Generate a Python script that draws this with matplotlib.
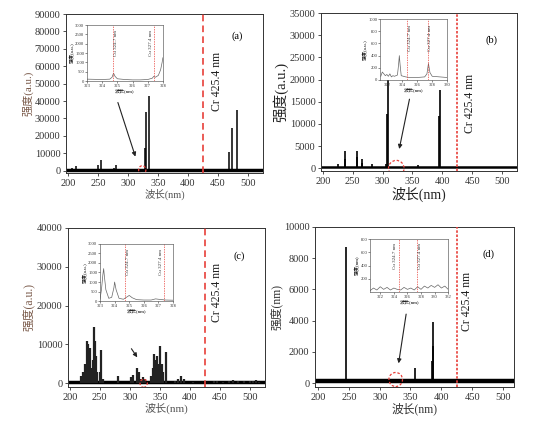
import matplotlib
matplotlib.use("Agg")
import matplotlib.pyplot as plt
from matplotlib.patches import Ellipse

plt.rcParams['font.family'] = ['Liberation Serif', 'Noto Sans CJK SC']
plt.rcParams['axes.unicode_minus'] = False

# ---------------- data ----------------
x_ticks = [200, 250, 300, 350, 400, 450, 500]
cr_line = 425.4
cu_lines = [324.7, 327.4]
cu_labels = ["Cu 324.7 nm", "Cu 327.4 nm"]

# (a)
a_wl = [202.5, 206.2, 210.2, 213.9, 250.2, 255.8, 277.1, 280.1, 307.6, 328.2, 330.5, 334.5, 469.0, 473.0, 482.0]
a_int = [1200, 1500, 800, 3000, 3200, 6000, 1800, 3200, 800, 13000, 34000, 43000, 11000, 24500, 35000]
a_yticks = [0, 10000, 20000, 30000, 40000, 50000, 60000, 70000, 80000, 90000]
a_in_x = [323.0, 323.5, 324.0, 324.5, 324.65, 324.75, 324.85, 325.0, 325.5, 326.0, 326.5, 327.0, 327.3, 327.4, 327.5, 327.7, 327.85, 327.95, 328.0]
a_in_y = [100, 90, 80, 100, 200, 420, 250, 120, 80, 60, 60, 80, 150, 250, 200, 300, 600, 1000, 1250]

# (b)
b_wl = [221.0, 226.3, 236.7, 237.3, 256.8, 257.5, 265.2, 266.0, 281.6, 305.0, 308.2, 309.3, 358.7, 394.4, 396.15, 466.3, 486.0]
b_int = [300, 1000, 2000, 4000, 2500, 3800, 1200, 2000, 1000, 1000, 12200, 19800, 800, 11700, 17600, 300, 300]
b_yticks = [0, 5000, 10000, 15000, 20000, 25000, 30000, 35000]
b_in_x = [321.2, 321.4, 321.6, 321.8, 322.0, 322.2, 322.4, 322.6, 322.8, 323.0, 323.4, 323.55, 323.65, 323.75, 323.9, 324.5, 325.0, 326.0, 327.0, 327.3, 327.5, 327.7, 328.0, 329.0, 330.0]
b_in_y = [60, 130, 100, 70, 90, 60, 100, 50, 70, 60, 80, 250, 400, 250, 70, 50, 40, 40, 50, 100, 270, 120, 60, 50, 40]

# (c)
c_wl = [218, 222, 225, 228, 230, 232, 234, 236, 238, 240, 242, 244, 246, 250, 252, 256,
        280, 302, 305, 312, 315, 318, 322, 325, 335, 338, 341, 343, 345, 347, 349, 351,
        353, 356, 361, 375, 380, 386, 390, 405, 440, 445, 455, 465, 472, 480, 490, 500, 505, 510, 515]
c_int = [2000, 3000, 5000, 11000, 10000, 6000, 9000, 4000, 6000, 14500, 11000, 7000, 3000, 3000, 8500, 1000,
         2000, 1600, 2200, 4000, 3000, 1000, 1500, 1000, 2000, 4000, 7500, 6000, 7000, 5000, 4500, 9500,
         5000, 3000, 8000, 700, 1000, 2000, 1000, 300, 600, 500, 400, 500, 900, 500, 600, 500, 600, 900, 400]
c_yticks = [0, 10000, 20000, 30000, 40000]
c_in_x = [323.0, 323.1, 323.2, 323.25, 323.3, 323.4, 323.6, 323.8, 323.95, 324.0, 324.1, 324.3, 324.6, 324.8, 325.0, 325.2, 325.5, 326.0, 326.5, 326.8, 327.0, 327.5, 328.0]
c_in_y = [100, 600, 1400, 1700, 1300, 600, 150, 200, 700, 1000, 600, 150, 100, 200, 300, 180, 80, 60, 60, 120, 100, 60, 50]

# (d)
d_wl = [245.0, 357.5, 384.5, 386.0, 387.2, 415.0]
d_int = [8700, 1000, 1400, 2400, 3900, 200]
d_yticks = [0, 2000, 4000, 6000, 8000, 10000]
d_in_x = [320.5, 321.0, 321.5, 322.0, 322.5, 323.0, 323.5, 324.0, 324.5, 325.0, 325.5, 326.0, 326.5, 327.0,
          327.5, 328.0, 328.5, 329.0, 329.5, 330.0, 330.5, 331.0, 331.5, 332.0]
d_in_y = [20, 60, 30, 80, 40, 70, 30, 60, 40, 30, 70, 40, 60, 30, 80, 40, 90, 60, 100, 70, 110, 60, 90, 40]

# ---------------- figure ----------------
fig = plt.figure(figsize=(5.54, 4.23), dpi=100)

panels = [
    dict(rect=[0.1191, 0.591, 0.3556, 0.3759], wl=a_wl, it=a_int, xlim=(197, 525), ylim=(-1300, 90000),
         yticks=a_yticks, ylabel="强度(a.u.)", ylc='#7a5a4a', ysz=8, xsz=7.5, xlc='#555555', tag="(a)",
         tagpos=(0.87, 0.86), base=300, blw=2.5, slw=1.1, scol='black', crtxt=(448, 51000),
         arrow=((282, 40700), (314, 6600)), circ=((324, 400), 12, 5000), cls=(0, (4, 2.5)),
         inset=[0.157, 0.8085, 0.137, 0.132], ix=a_in_x, iy=a_in_y, ixlim=(323, 328), iylim=(0, 3000),
         ixt=[323, 324, 325, 326, 327, 328], iyt=[0, 500, 1000, 1500, 2000, 2500, 3000],
         cuside=[1, -1], iylab="强度(a.u.)"),
    dict(rect=[0.5794, 0.5957, 0.3538, 0.3735], wl=b_wl, it=b_int, xlim=(197, 525), ylim=(-600, 35000),
         yticks=b_yticks, ylabel="强度(a.u.)", ylc='#222222', ysz=10.5, xsz=10, xlc='#222222', tag="(b)",
         tagpos=(0.87, 0.83), base=200, blw=1.8, slw=1.2, scol='black', crtxt=(447, 14700),
         arrow=((346, 16200), (327, 3750)), circ=((323, 0), 26, 3600), cls=(0, (1.5, 1)),
         inset=[0.686, 0.811, 0.1215, 0.144], ix=b_in_x, iy=b_in_y, ixlim=(321.1, 330), iylim=(0, 1000),
         ixt=[322, 324, 326, 328, 330], iyt=[0, 200, 400, 600, 800, 1000],
         cuside=[1, 1], iylab="强度(a.u.)"),
    dict(rect=[0.1227, 0.0851, 0.3556, 0.3759], wl=c_wl, it=c_int, xlim=(197, 525), ylim=(-950, 40000),
         yticks=c_yticks, ylabel="强度(a.u.)", ylc='#7a5a4a', ysz=8.5, xsz=8, xlc='#555555', tag="(c)",
         tagpos=(0.87, 0.82), base=250, blw=2.5, slw=1.6, scol='#222222', crtxt=(445, 23300),
         arrow=((300, 9500), (315, 6100)), circ=((323, 0), 12, 2100), cls=(0, (4, 2.5)),
         inset=[0.1805, 0.288, 0.132, 0.136], ix=c_in_x, iy=c_in_y, ixlim=(323, 328), iylim=(0, 3000),
         ixt=[323, 324, 325, 326, 327, 328], iyt=[0, 500, 1000, 1500, 2000, 2500, 3000],
         cuside=[1, -1], iylab="强度(a.u.)"),
    dict(rect=[0.5686, 0.0851, 0.3592, 0.3783], wl=d_wl, it=d_int, xlim=(195, 518), ylim=(-240, 10000),
         yticks=d_yticks, ylabel="强度(nm)", ylc='#333333', ysz=8.5, xsz=8.5, xlc='#333333', tag="(d)",
         tagpos=(0.87, 0.83), base=130, blw=3.2, slw=1.2, scol='black', crtxt=(441, 5250),
         arrow=((343.6, 4600), (330, 1100)), circ=((326, 240), 22, 900), cls=(0, (1.5, 1)),
         inset=[0.668, 0.3097, 0.141, 0.1246], ix=d_in_x, iy=d_in_y, ixlim=(320.5, 332), iylim=(0, 800),
         ixt=[322, 324, 326, 328, 330, 332], iyt=[200, 400, 600, 800],
         cuside=[-1, 1], iylab="强度(nm)"),
]

red = '#e8403a'
for p in panels:
    ax = fig.add_axes(p['rect'])
    ax.plot(list(p['xlim']), [p['base'], p['base']], color='black', lw=p['blw'], solid_capstyle='butt', zorder=2)
    ax.vlines(p['wl'], 0, p['it'], color=p['scol'], lw=p['slw'], zorder=3)
    ax.axvline(cr_line, color=red, lw=1.2, ls=p['cls'], zorder=4)
    ax.set_xlim(*p['xlim'])
    ax.set_ylim(*p['ylim'])
    ax.set_xticks(x_ticks)
    ax.set_yticks(p['yticks'])
    ax.tick_params(labelsize=7.5, length=2.5, width=0.6, pad=1.5, colors='#333333')
    for s in ax.spines.values():
        s.set_linewidth(0.7)
        s.set_color('#333333')
    ax.set_xlabel("波长(nm)", fontsize=p['xsz'], color=p['xlc'], labelpad=1)
    ax.set_ylabel(p['ylabel'], fontsize=p['ysz'], color=p['ylc'], labelpad=1)
    ax.text(*p['tagpos'], p['tag'], transform=ax.transAxes, fontsize=7.5, ha='center', va='center')
    ax.text(p['crtxt'][0], p['crtxt'][1], "Cr 425.4 nm", rotation=90, fontsize=8.5,
            ha='center', va='center', color='#222222')
    ax.annotate('', xy=p['arrow'][1], xytext=p['arrow'][0],
                arrowprops=dict(arrowstyle='-|>', color='#222222', lw=0.8, mutation_scale=6))
    (cx, cy), cw, ch = p['circ']
    ax.add_patch(Ellipse((cx, cy), cw, ch, fill=False, edgecolor=red, lw=0.9, ls=(0, (2, 1.5)), zorder=5))

    ia = fig.add_axes(p['inset'])
    ia.plot(p['ix'], p['iy'], color='#666666', lw=0.5)
    for k, (cl, lab) in enumerate(zip(cu_lines, cu_labels)):
        ia.axvline(cl, color=red, lw=0.5, ls=(0, (2, 1.5)))
        span = p['ixlim'][1] - p['ixlim'][0]
        off = 0.04 * span * p['cuside'][k]
        ia.text(cl + off, p['iylim'][1] * 0.68, lab, rotation=90, fontsize=3.6,
                ha='center', va='center', color='#333333')
    ia.set_xlim(*p['ixlim'])
    ia.set_ylim(*p['iylim'])
    ia.set_xticks(p['ixt'])
    ia.set_yticks(p['iyt'])
    ia.tick_params(labelsize=3.3, length=1.2, width=0.4, pad=0.8, colors='#333333')
    for s in ia.spines.values():
        s.set_linewidth(0.45)
        s.set_color('#555555')
    ia.set_xlabel("波长(nm)", fontsize=3.6, labelpad=0.5)
    ia.set_ylabel(p['iylab'], fontsize=3.6, labelpad=0.5)

fig.savefig("out.png", dpi=100)
